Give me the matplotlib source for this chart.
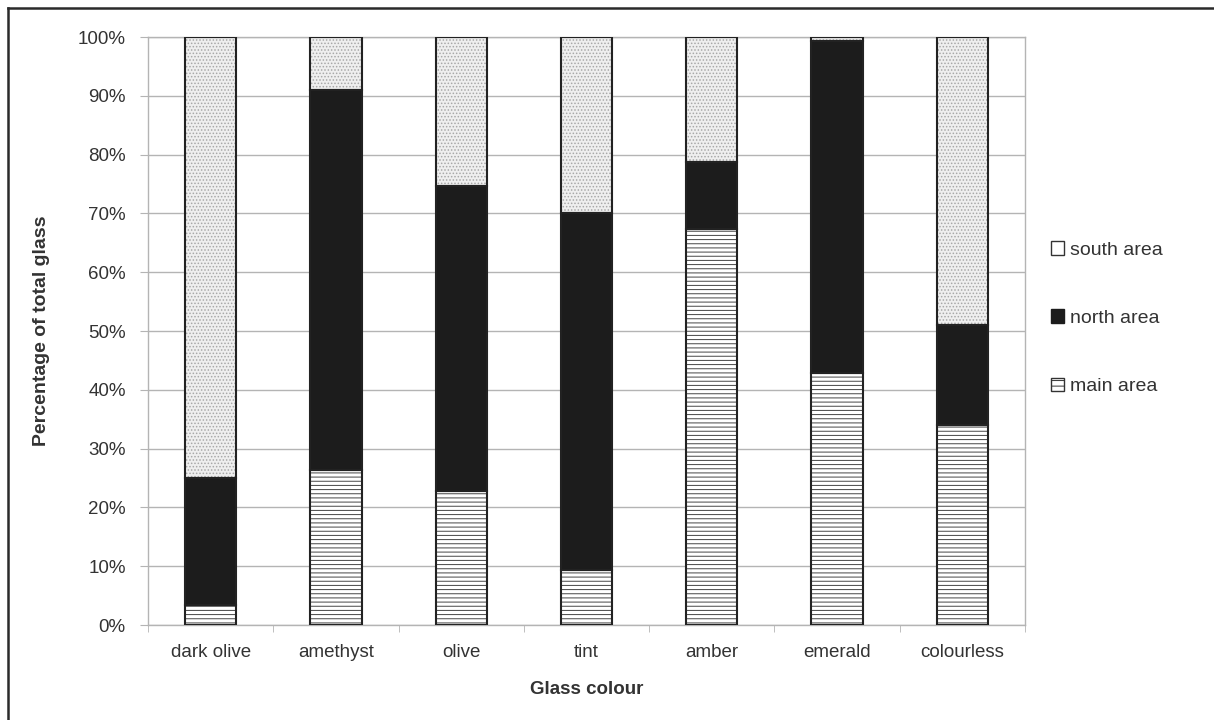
import numpy as np
import matplotlib
matplotlib.use("Agg")
from matplotlib import pyplot as plt
from matplotlib.patches import Patch
from matplotlib.lines import Line2D

plt.rcParams['font.family'] = ['Liberation Sans', 'DejaVu Sans']
plt.rcParams['hatch.linewidth'] = 0.7

colours = ['dark olive', 'amethyst', 'olive', 'tint', 'amber', 'emerald', 'colourless']
main_area = [3.4, 26.3, 22.8, 9.3, 67.3, 42.9, 34.0]
north_area = [21.6, 64.7, 51.9, 60.7, 11.5, 56.4, 17.0]
south_area = [75.0, 9.0, 25.3, 30.0, 21.2, 0.7, 49.0]

texto = '#333333'
grelha = '#b4b4b4'

fig = plt.figure(figsize=(12.14, 7.2), dpi=100)
ax = fig.add_axes([0.1219, 0.1319, 0.7224, 0.8167])

x = np.arange(len(colours))
largura = 0.41
main = np.array(main_area)
north = np.array(north_area)
south = np.array(south_area)

# camadas com padrao (a cor da trama vem da edgecolor)
ax.bar(x, main, largura, color='white', hatch='----', edgecolor='#444444', linewidth=0, zorder=2)
ax.bar(x, north, largura, bottom=main, color='#1c1c1c', linewidth=0, zorder=2)
ax.bar(x, south, largura, bottom=main + north, color='#efefef', hatch='.....',
       edgecolor='#a8a8a8', linewidth=0, zorder=2)
# contornos dos segmentos
for base, alt in [(0, main), (main, north), (main + north, south)]:
    ax.bar(x, alt, largura, bottom=base, fill=False, edgecolor='#222222', linewidth=1.5, zorder=3)

ax.set_xlim(-0.5, len(colours) - 0.5)
ax.set_ylim(0, 100)
ax.set_yticks(np.arange(0, 101, 10))
ax.set_yticklabels([f'{v}%' for v in range(0, 101, 10)])
ax.set_xticks(x)
ax.set_xticklabels(colours)
ax.set_xticks(np.arange(-0.5, len(colours), 1), minor=True)
ax.tick_params(axis='x', which='major', length=0, pad=14, labelsize=13.5, colors=texto)
ax.tick_params(axis='x', which='minor', length=5, color=grelha, direction='out')
ax.tick_params(axis='y', length=6, color=grelha, pad=10, labelsize=13.5, colors=texto)
ax.yaxis.grid(True, color=grelha, linewidth=1)
ax.set_axisbelow(True)
for s in ax.spines.values():
    s.set_color(grelha)
    s.set_linewidth(1)

fig.text(0.034, 0.54, 'Percentage of total glass', rotation=90, ha='center', va='center',
         fontsize=14, fontweight='bold', color=texto)
fig.text(0.4835, 0.042, 'Glass colour', ha='center', va='center',
         fontsize=13.5, fontweight='bold', color=texto)

handles = [Patch(facecolor='white', edgecolor='#333333', linewidth=1),
           Patch(facecolor='#1c1c1c', edgecolor='#1c1c1c', linewidth=1),
           Patch(facecolor='white', edgecolor='#333333', hatch='---', linewidth=1)]
leg = fig.legend(handles, ['south area', 'north area', 'main area'], loc='center left',
                 bbox_to_anchor=(0.851, 0.558), frameon=False, fontsize=14,
                 handlelength=0.7, handleheight=0.7, handletextpad=0.3, labelspacing=2.6)
for t in leg.get_texts():
    t.set_color(texto)

# moldura superior e esquerda
fig.add_artist(Line2D([0.0066, 1.0], [0.9882, 0.9882], color='#2a2a2a', linewidth=1.8))
fig.add_artist(Line2D([0.0066, 0.0066], [0.0, 0.9882], color='#2a2a2a', linewidth=1.8))

fig.savefig('out.png', dpi=100)
